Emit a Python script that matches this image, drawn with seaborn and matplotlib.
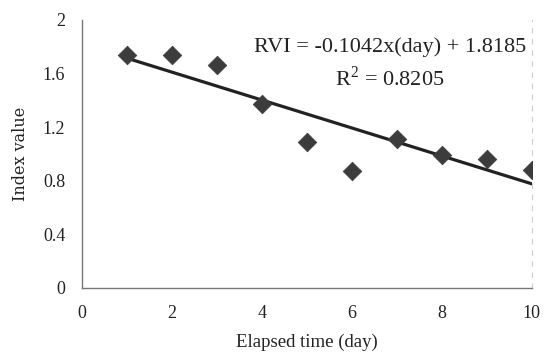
import matplotlib
matplotlib.use("Agg")
import matplotlib.pyplot as plt
import seaborn as sns
import numpy as np
import pandas as pd

days = [1, 2, 3, 4, 5, 6, 7, 8, 9, 10]
rvi = [1.74, 1.74, 1.66, 1.37, 1.09, 0.87, 1.11, 0.99, 0.96, 0.88]
slope = -0.1042
intercept = 1.8185
x_ticks = [0, 2, 4, 6, 8, 10]
y_ticks = [0, 0.4, 0.8, 1.2, 1.6, 2]
y_tick_labels = ["0", "0.4", "0.8", "1.2", "1.6", "2"]

sns.set_theme(style="white")
plt.rcParams['font.family'] = ['Liberation Serif', 'DejaVu Serif']
plt.rcParams['mathtext.fontset'] = 'custom'
plt.rcParams['mathtext.rm'] = 'Liberation Serif'

df = pd.DataFrame({"day": days, "rvi": rvi})
fit_x = np.array([days[0], days[-1]], dtype=float)
fit_df = pd.DataFrame({"day": fit_x, "fit": slope * fit_x + intercept})

fig = plt.figure(figsize=(5.5, 3.55), dpi=100)
ax = fig.add_axes([0.149, 0.189, 0.818, 0.755])

sns.lineplot(data=fit_df, x="day", y="fit", ax=ax, color="#222222", linewidth=2.3)
sns.scatterplot(data=df, x="day", y="rvi", ax=ax, marker="D", s=90,
                color="#3c3c3c", edgecolor="#3c3c3c", linewidth=0.5, zorder=3)

ax.set_xlim(0, 10)
ax.set_ylim(0, 2)
ax.set_xticks(x_ticks)
ax.set_xticklabels([str(t) for t in x_ticks])
ax.set_yticks(y_ticks)
ax.set_yticklabels(y_tick_labels)
ax.tick_params(axis="both", length=0, labelsize=13, colors="#222222")
ax.tick_params(axis="x", pad=12)
ax.tick_params(axis="y", pad=12)

ax.set_xlabel("Elapsed time (day)", fontsize=13.5, color="#222222", labelpad=9)
ax.set_ylabel("Index value", fontsize=11.5, color="#222222", labelpad=10,
              family=['DejaVu Serif'])

ax.spines["top"].set_visible(False)
ax.spines["left"].set_color("#777777")
ax.spines["left"].set_linewidth(1.0)
ax.spines["bottom"].set_color("#777777")
ax.spines["bottom"].set_linewidth(1.0)
ax.spines["bottom"].set_linestyle((0, (6, 1)))
ax.spines["right"].set_color("#cccccc")
ax.spines["right"].set_linewidth(0.8)
ax.spines["right"].set_linestyle((0, (4, 6)))

ax.text(0.685, 0.9, "RVI = -0.1042x(day) + 1.8185", transform=ax.transAxes,
        ha="center", va="center", fontsize=16, color="#222222")
ax.text(0.685, 0.78, r"R$^{\mathregular{2}}$ = 0.8205", transform=ax.transAxes,
        ha="center", va="center", fontsize=16, color="#222222")

ax.grid(False)
fig.savefig("out.png", dpi=100)
